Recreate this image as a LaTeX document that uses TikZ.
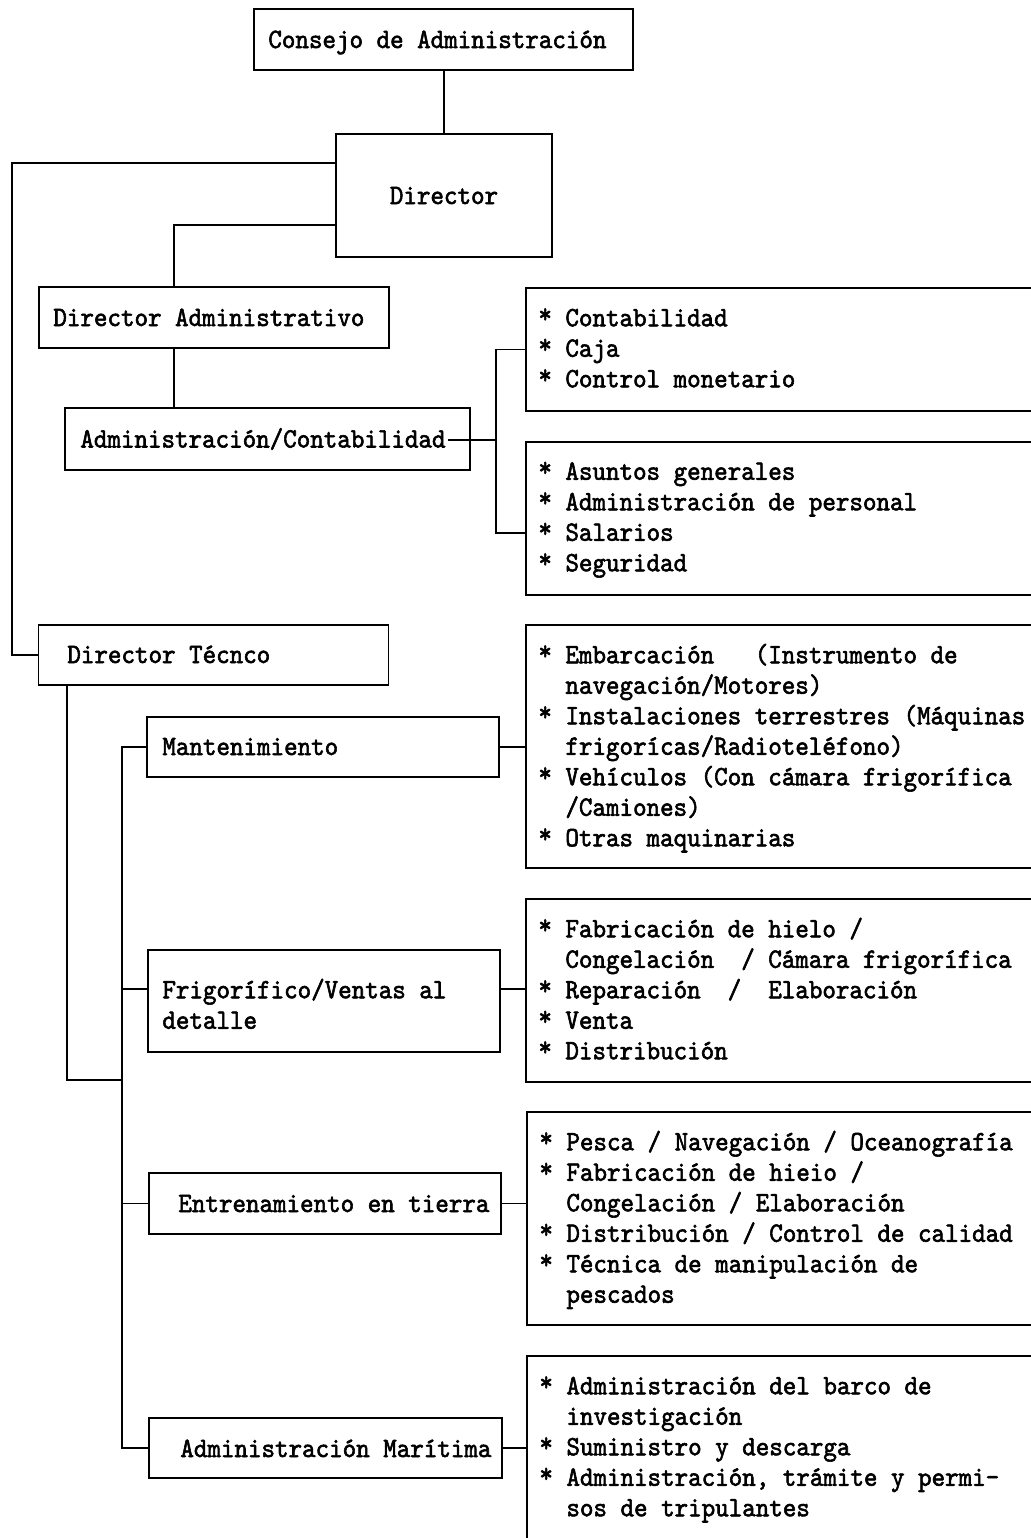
\documentclass[tikz,border=0pt]{standalone}
\usepackage{fontspec}
\newfontfamily\tyf{lmmono10-regular.otf}[FakeStretch=0.92,FakeBold=2]
\tikzset{
  bx/.style={draw, line width=0.9pt, rectangle, inner sep=0pt, outer sep=0pt},
  ltxt/.style={inner sep=0pt, anchor=base west, font={\tyf\fontsize{14pt}{15.25pt}\selectfont}},
  rtxt/.style={inner sep=0pt, anchor=north west, align=left, font={\tyf\fontsize{14pt}{15.25pt}\selectfont}},
  ln/.style={line width=0.9pt}
}
\newcommand\ind{\hphantom{**}}
\newcommand\stb{\raisebox{0.12em}{*}}
\begin{document}
\begin{tikzpicture}[x=0.5pt,y=-0.5pt]
\useasboundingbox (0,0) rectangle (1031,1538);
\fill[white] (0,0) rectangle (1031,1538);
\clip (0,0) rectangle (1031,1538);

% left column boxes
\node[bx, minimum width=189.5pt, minimum height=30.5pt] (consejo) at (443.5,39.5) {};
\node[ltxt] (consejo-t) at (268,48) {Consejo de Administración};

\node[bx, minimum width=108pt, minimum height=61.5pt] (director) at (444,195.5) {};
\node[ltxt, anchor=base] (director-t) at (444,204) {Director};

\node[bx, minimum width=175pt, minimum height=30.5pt] (dirad) at (214,317.5) {};
\node[ltxt] (dirad-t) at (53,326) {Director Administrativo};

\node[bx, minimum width=202.5pt, minimum height=31pt] (adm) at (267.5,439) {};
\node[ltxt] (adm-t) at (80,447.5) {Administración/Contabilidad};

\node[bx, minimum width=175pt, minimum height=30pt] (dirtec) at (213.5,655) {};
\node[ltxt] (dirtec-t) at (67,663) {Director Técnco};

\node[bx, minimum width=176pt, minimum height=30pt] (mant) at (323,747) {};
\node[ltxt] (mant-t) at (162,755) {Mantenimiento};

\node[bx, minimum width=176pt, minimum height=51pt] (frig) at (324,1001) {};
\node[rtxt] (frig-t) at (162,976.5) {\strut Frigorífico/Ventas al\\detalle};

\node[bx, minimum width=176pt, minimum height=30.5pt] (entren) at (325,1203.5) {};
\node[ltxt] (entren-t) at (178,1212) {Entrenamiento en tierra};

\node[bx, minimum width=176.5pt, minimum height=30pt] (marit) at (325.5,1448) {};
\node[ltxt] (marit-t) at (180,1457) {Administración Marítima};

% right column boxes (extend past the right edge)
\node[bx, minimum width=267pt, minimum height=61.5pt] (box1) at (793,349.5) {};
\node[rtxt] (box1-t) at (538,304.5) {\strut\stb\ Contabilidad\\\stb\ Caja\\\stb\ Control monetario};

\node[bx, minimum width=267pt, minimum height=76.5pt] (box2) at (793,518.5) {};
\node[rtxt] (box2-t) at (538,458) {\strut\stb\ Asuntos generales\\\stb\ Administración de personal\\\stb\ Salarios\\\stb\ Seguridad};

\node[bx, minimum width=267pt, minimum height=121.5pt] (box3) at (793,746.5) {};
\node[rtxt] (box3-t) at (538,641.5) {\strut\stb\ Embarcación\ \ \ (Instrumento de\\\ind navegación/Motores)\\\stb\ Instalaciones terrestres (Máquinas\\\ind frigorícas/Radioteléfono)\\\stb\ Vehículos (Con cámara frigorífica\\\ind /Camiones)\\\stb\ Otras maquinarias};

\node[bx, minimum width=267pt, minimum height=91.5pt] (box4) at (793,990.5) {};
\node[rtxt] (box4-t) at (538,915.5) {\strut\stb\ Fabricación de hielo /\\\ind Congelación\ \ / Cámara frigorífica\\\stb\ Reparación\ \ /\ \ Elaboración\\\stb\ Venta\\\stb\ Distribución};

\node[bx, minimum width=266.5pt, minimum height=106.5pt] (box5) at (793.5,1218.5) {};
\node[rtxt] (box5-t) at (539,1128.5) {\strut\stb\ Pesca / Navegación / Oceanografía\\\stb\ Fabricación de hieio /\\\ind Congelación / Elaboración\\\stb\ Distribución / Control de calidad\\\stb\ Técnica de manipulación de\\\ind pescados};

\node[bx, minimum width=266.5pt, minimum height=130pt] (box6) at (793.5,1486) {};
\node[rtxt] (box6-t) at (539,1372.5) {\strut\stb\ Administración del barco de\\\ind investigación\\\stb\ Suministro y descarga\\\stb\ Administración, trámite y permi-\\\ind sos de tripulantes};

% junction coordinates
\coordinate (jA) at (12,163);
\coordinate (jB) at (174,225);
\coordinate (jC) at (496,440);
\coordinate (jD) at (496,533);
\coordinate (jE) at (67,1080);
\coordinate (jF) at (122,1080);
\coordinate (jG) at (122,989);

% connectors
\draw[ln] (consejo.south -| director.north) -- (director.north);
\draw[ln] (director.west |- jA) -- (jA) |- (dirtec.west);
\draw[ln] (director.west |- jB) -| (dirad.north -| jB);
\draw[ln] (dirad.south -| jB) -- (adm.north -| jB);
\draw[ln] ([xshift=1pt]adm-t.east |- jC) -- (jC);
\draw[ln] (box1.west) -- (box1.west -| jC) -- (jD) -- (box2.west |- jD);
\draw[ln] (dirtec.south -| jE) -- (jE) -- (jF);
\draw[ln] (mant.west) -- (mant.west -| jF) -- (marit.west -| jF) -- (marit.west);
\draw[ln] (jG) -- (frig.west |- jG);
\draw[ln] (entren.west) -- (entren.west -| jF);
\draw[ln] (mant.east) -- (box3.west |- mant.east);
\draw[ln] (frig.east |- jG) -- (box4.west |- jG);
\draw[ln] (entren.east) -- (box5.west |- entren.east);
\draw[ln] (marit.east) -- (box6.west |- marit.east);
\end{tikzpicture}
\end{document}
